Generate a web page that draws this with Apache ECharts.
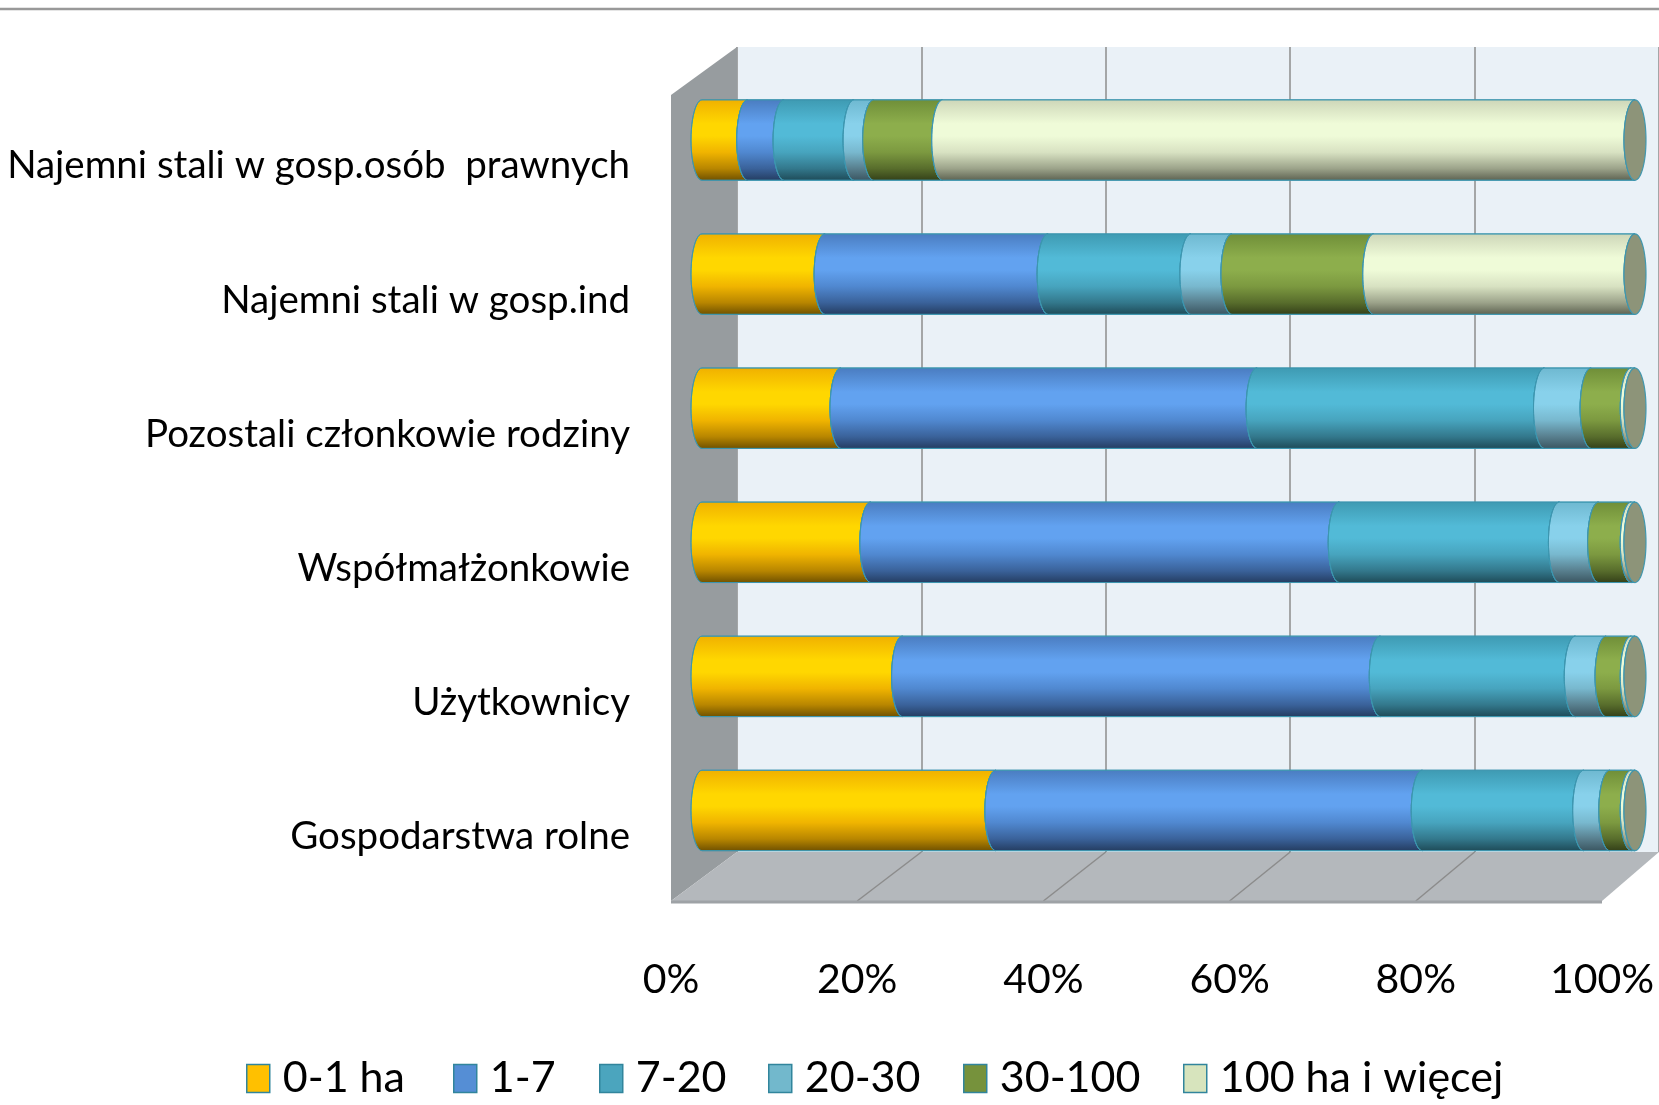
<!DOCTYPE html>
<html><head><meta charset="utf-8">
<script src="https://cdn.jsdelivr.net/npm/echarts@6/dist/echarts.min.js"></script>
<style>html,body{margin:0;padding:0;background:#fff}#c{width:1659px;height:1105px}</style>
</head><body><div id="c"></div>
<script>
// ---- data ----
const categories = ['Gospodarstwa rolne','Użytkownicy','Współmałżonkowie','Pozostali członkowie rodziny','Najemni stali w gosp.ind','Najemni stali w gosp.osób  prawnych'];
const seriesNames = ['0-1 ha','1-7','7-20','20-30','30-100','100 ha i więcej'];
const ha0_1    = [31.5, 21.5, 18.1, 14.9, 13.2, 4.9];
const ha1_7    = [45.7, 51.2, 50.2, 44.6, 23.9, 3.9];
const ha7_20   = [17.3, 20.9, 23.6, 30.8, 15.3, 7.5];
const ha20_30  = [2.8, 3.3, 4.2, 5.0, 4.4, 2.1];
const ha30_100 = [2.3, 2.7, 3.5, 4.3, 15.2, 7.4];
const ha100    = [0.4, 0.4, 0.4, 0.4, 28.0, 74.2];
const tickLabels = ['0%','20%','40%','60%','80%','100%'];

// ---- styles ----
const FONT = 'Lato';
const legendColors = ['#FFC000','#558ED5','#4BA5BE','#72B8CC','#76923C','#D7E4BD'];
const gradStops = [
  ['#F0B000','#FFD700','#FFD700','#F0B400','#B88600','#6E5000'],
  ['#4A7CC0','#62A2F0','#62A2F0','#5088D0','#3A629A','#243C60'],
  ['#3E9AB2','#52BAD7','#52BAD7','#47A4BE','#33788C','#1E4A57'],
  ['#6EB8D0','#88D1EB','#88D1EB','#78B8CE','#587F8E','#3A5560'],
  ['#6F8E38','#8DAE4C','#8DAE4C','#7C9940','#586D2C','#333F18'],
  ['#CDD6B8','#EFFBD8','#EFFBD8','#D8E2C2','#9CA38A','#5C6150']
];
const stopPos = [0,0.3,0.45,0.65,0.85,1];
const RX = 11;
const legendLeft = [241, 448, 594, 763, 958, 1178];

const allSeries = [ha0_1, ha1_7, ha7_20, ha20_30, ha30_100, ha100];
const totals = categories.map((c,i)=>allSeries.reduce((s,a)=>s+a[i],0));

function arcPts(xc, ym, ry, from, to, n){
  const pts=[];
  for(let j=0;j<=n;j++){
    const t = from + (to-from)*j/n;
    pts.push([xc - RX*Math.cos(t), ym + ry*Math.sin(t)]);
  }
  return pts;
}

function makeRender(k){
  return function(params, api){
    const s = api.value(0), e = api.value(1), ci = api.value(2);
    const a = api.coord([s, ci]), b = api.coord([e, ci]);
    const band = api.size([0,1])[1];
    const ry = band*0.6/2, ym = a[1];
    const x0 = a[0], x1 = b[0];
    let pts = [[x0, ym-ry],[x1, ym-ry]];
    pts = pts.concat(arcPts(x1, ym, ry, -Math.PI/2, Math.PI/2, 24));
    pts.push([x0, ym+ry]);
    pts = pts.concat(arcPts(x0, ym, ry, Math.PI/2, -Math.PI/2, 24));
    const fill = new echarts.graphic.LinearGradient(0,0,0,1,
      stopPos.map((p,j)=>({offset:p, color:gradStops[k][j]})));
    const children = [{
      type:'polygon', shape:{points:pts},
      style:{fill:fill, stroke:'rgba(60,150,175,0.9)', lineWidth:1}
    }];
    if (k === allSeries.length-1){
      const cap=[];
      for(let j=0;j<=60;j++){const t=2*Math.PI*j/60; cap.push([x1+RX*Math.cos(t), ym+ry*Math.sin(t)]);}
      children.push({type:'polygon', shape:{points:cap}, style:{fill:'#8D9479', stroke:'rgba(60,150,175,0.95)', lineWidth:1.2}});
    }
    return {type:'group', children};
  };
}

const series = allSeries.map((arr,k)=>({
  type:'custom', name:seriesNames[k], xAxisIndex:0, yAxisIndex:0,
  renderItem: makeRender(k),
  itemStyle:{color:legendColors[k]},
  encode:{x:[0,1], y:2},
  z:5,
  data: arr.map((v,i)=>{
    let start=0; for(let m=0;m<k;m++) start+=allSeries[m][i];
    return [start/totals[i]*100, (start+v)/totals[i]*100, i];
  })
}));

const chart = echarts.init(document.getElementById('c'));
const option = {
  animation:false,
  backgroundColor:'#fff',
  grid:[
    {left:702, top:73, width:933, height:804.5},            // bars (mid depth)
    {left:737, top:47, width:931, height:805, show:true, backgroundColor:'#EAF1F7', borderWidth:0}, // back wall
    {left:671, top:99, width:931, height:804.5}             // front plane (labels)
  ],
  xAxis:[
    {gridIndex:0, type:'value', min:0, max:100, interval:20, show:false},
    {gridIndex:1, type:'value', min:0, max:100, interval:20,
     axisLine:{show:false}, axisTick:{show:false}, axisLabel:{show:false},
     splitLine:{show:true, lineStyle:{color:'#8C8C8C', width:1.5}}},
    {gridIndex:2, type:'value', min:0, max:100, interval:20,
     axisLine:{show:false}, axisTick:{show:false}, splitLine:{show:false},
     axisLabel:{margin:56, fontSize:41, fontFamily:FONT, color:'#000',
       formatter:(v)=>tickLabels[Math.round(v/20)]}}
  ],
  yAxis:[
    {gridIndex:0, type:'category', data:categories, show:false},
    {gridIndex:1, type:'value', show:false, splitLine:{show:false}},
    {gridIndex:2, type:'category', data:categories,
     axisLine:{show:false}, axisTick:{show:false},
     axisLabel:{margin:41, fontSize:38.5, fontFamily:FONT, color:'#000'}}
  ],
  legend: seriesNames.map((n,i)=>({
    data:[n], left:legendLeft[i], top:1052, padding:5, icon:'rect',
    itemWidth:23, itemHeight:28, selectedMode:false,
    itemStyle:{borderColor:'#31859C', borderWidth:1.5},
    textStyle:{fontSize:43, fontFamily:FONT, color:'#000', padding:[0,0,0,8]}
  })),
  series
};
chart.setOption(option);

// frame decorations derived from axes
const FRONT_Y = 901, BACK_Y = 852, WALL_TOP_FRONT = 95, WALL_TOP_BACK = 47;
const f0 = chart.convertToPixel({xAxisIndex:2}, 0), f100 = chart.convertToPixel({xAxisIndex:2}, 100);
const b0 = chart.convertToPixel({xAxisIndex:1}, 0), b100 = chart.convertToPixel({xAxisIndex:1}, 100);
const g = [];
g.push({type:'line', shape:{x1:0,y1:9,x2:1659,y2:9}, style:{stroke:'#999', lineWidth:2.5}, z:1});
g.push({type:'polygon', shape:{points:[[f0,WALL_TOP_FRONT],[b0,WALL_TOP_BACK],[b0,BACK_Y],[f0,FRONT_Y]]}, style:{fill:'#979C9F'}, z:1});
g.push({type:'polygon', shape:{points:[[f0,FRONT_Y],[f100,FRONT_Y],[b100,BACK_Y],[b0,BACK_Y]]}, style:{fill:'#B4B8BC'}, z:1});
[20,40,60,80].forEach(v=>{
  const xb = chart.convertToPixel({xAxisIndex:1}, v), xf = chart.convertToPixel({xAxisIndex:2}, v);
  g.push({type:'line', shape:{x1:xb,y1:BACK_Y,x2:xf,y2:FRONT_Y}, style:{stroke:'#8C8C8C', lineWidth:1.5}, z:2});
});
g.push({type:'line', shape:{x1:f0,y1:FRONT_Y+1,x2:f100,y2:FRONT_Y+1}, style:{stroke:'#9EA2A6', lineWidth:3}, z:2});
chart.setOption({graphic:{elements:g}});
</script></body></html>
